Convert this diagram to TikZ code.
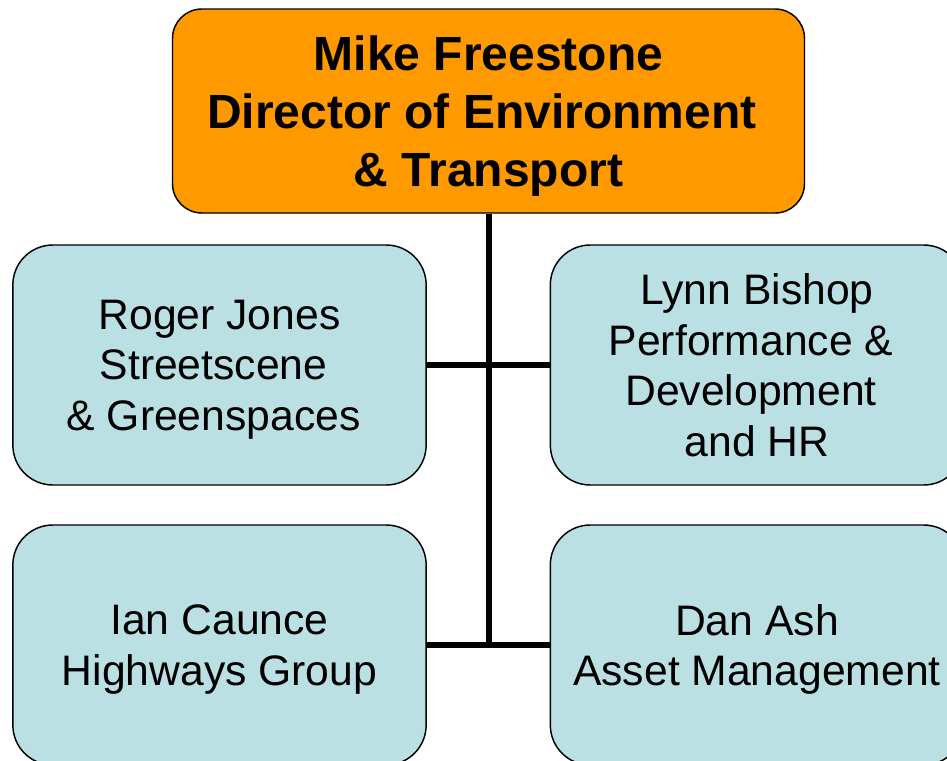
\documentclass[tikz,border=0pt]{standalone}
\usepackage{fontspec}
\setmainfont{Liberation Sans}
\definecolor{headorange}{RGB}{255,153,0}
\definecolor{unitblue}{RGB}{187,224,227}
\newcommand{\trailsp}{\ \mbox{}}
\begin{document}
\begin{tikzpicture}[x=0.75pt, y=-0.75pt,
    head/.style={draw, line width=1.1pt, fill=headorange, rounded corners=22pt,
        minimum width=474pt, minimum height=153pt, align=center, text depth=0pt,
        font=\fontsize{36}{43.5}\selectfont\bfseries},
    unit/.style={draw, line width=1.1pt, fill=unitblue, rounded corners=30pt,
        minimum width=310pt, minimum height=180pt, align=center, text depth=0pt,
        font=\fontsize{32}{38}\selectfont},
    link/.style={line width=4.5pt}]
    \useasboundingbox (0,0) rectangle (947,761);
    \clip (0,0) rectangle (947,761);
    % Nodes
    \node[head] (dir)   at (488.5, 111) {Mike Freestone\\Director of Environment\trailsp\\\& Transport};
    \node[unit] (roger) at (219.5, 365) {Roger Jones\\Streetscene\trailsp\\\& Greenspaces\trailsp};
    \node[unit] (lynn)  at (757, 365)   {Lynn Bishop\\Performance \&\trailsp\\Development\trailsp\\and HR};
    \node[unit] (ian)   at (219.5, 645) {Ian Caunce\\Highways Group};
    \node[unit] (dan)   at (757, 645)   {Dan Ash\\Asset Management};
    % Lines connecting the nodes
    \draw[link] (dir.south) -- (dir.south |- ian.east);
    \draw[link] (roger) -- (lynn);
    \draw[link] (ian) -- (dan);
\end{tikzpicture}
\end{document}
